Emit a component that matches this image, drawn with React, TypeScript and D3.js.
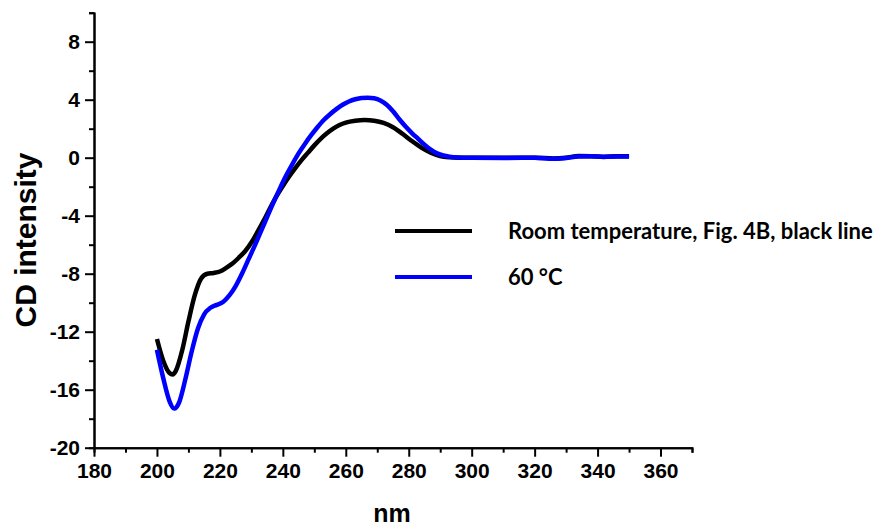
import React, { useEffect, useRef } from 'react'
import * as d3 from 'd3'

// Room temperature (Fig. 4B black line)
const roomNm = [200, 202, 204, 205, 206, 208, 210, 212, 214, 216, 218, 220, 222, 224, 226, 228, 230, 232, 234, 236, 238, 240, 242, 244, 246, 248, 250, 252, 254, 256, 258, 260, 263, 266, 269, 272, 275, 278, 281, 284, 287, 290, 293, 296, 300, 310, 320, 326, 330, 334, 338, 342, 346, 350]
const roomCd = [-12.5, -14.0, -14.85, -14.95, -14.7, -13.3, -11.3, -9.5, -8.35, -8.0, -7.95, -7.85, -7.6, -7.3, -6.9, -6.45, -5.85, -5.1, -4.3, -3.45, -2.65, -1.95, -1.3, -0.7, -0.15, 0.35, 0.85, 1.3, 1.68, 2.0, 2.25, 2.42, 2.55, 2.6, 2.55, 2.4, 2.1, 1.65, 1.15, 0.7, 0.35, 0.12, 0.03, 0.0, 0.0, 0.0, 0.0, -0.05, 0.0, 0.12, 0.1, 0.05, 0.1, 0.1]

// 60 °C
const hotNm = [200, 202, 204, 205.5, 207, 209, 211, 213, 215, 217, 219, 221, 223, 225, 227, 229, 231, 233, 235, 237, 239, 241, 243, 245, 247, 249, 251, 253, 255, 257, 259, 261, 263, 265, 267, 269, 271, 273, 275, 277, 279, 281, 283, 285, 287, 289, 291, 293, 296, 300, 310, 320, 326, 330, 334, 338, 342, 346, 350]
const hotCd = [-13.25, -15.2, -16.8, -17.3, -16.9, -15.3, -13.4, -11.8, -10.8, -10.35, -10.15, -9.95, -9.5, -8.85, -8.0, -7.05, -6.1, -5.1, -4.1, -3.1, -2.15, -1.25, -0.45, 0.3, 0.95, 1.55, 2.1, 2.6, 3.0, 3.35, 3.65, 3.88, 4.03, 4.12, 4.14, 4.1, 3.95, 3.65, 3.2, 2.65, 2.15, 1.7, 1.3, 0.9, 0.55, 0.3, 0.15, 0.07, 0.02, 0.0, -0.02, 0.0, -0.08, -0.02, 0.08, 0.1, 0.06, 0.08, 0.08]

const seriesNames = ['Room temperature, Fig. 4B, black line', '60 °C']
const seriesColors = ['#000000', '#0000ff']

const xMajorTicks = [180, 200, 220, 240, 260, 280, 300, 320, 340, 360]
const yMajorTicks = [-20, -16, -12, -8, -4, 0, 4, 8]

function App() {
  const ref = useRef(null)

  useEffect(() => {
    const svg = d3.select(ref.current)
    svg.selectAll('*').remove()

    const x = d3.scaleLinear().domain([180, 370]).range([94, 692])
    const y = d3.scaleLinear().domain([-20, 10]).range([447.7, 12.7])

    const labelFont = '"Liberation Sans", Arial, sans-serif'

    // minor ticks
    const xMinor = d3.axisBottom(x).tickValues(d3.range(190, 371, 20)).tickSize(5).tickFormat(() => '')
    const yMinor = d3.axisLeft(y).tickValues(d3.range(-18, 11, 4)).tickSize(5).tickFormat(() => '')

    const gx = svg.append('g').attr('transform', `translate(0, ${y(-20)})`)
    gx.call(xMinor)
    const gxMaj = svg.append('g').attr('transform', `translate(0, ${y(-20)})`)
    gxMaj.call(d3.axisBottom(x).tickValues(xMajorTicks).tickSize(9).tickSizeOuter(0).tickPadding(6)
      .tickFormat(d => String(d)))

    const gy = svg.append('g').attr('transform', `translate(${x(180)}, 0)`)
    gy.call(yMinor)
    const gyMaj = svg.append('g').attr('transform', `translate(${x(180)}, 0)`)
    gyMaj.call(d3.axisLeft(y).tickValues(yMajorTicks).tickSize(9).tickSizeOuter(0).tickPadding(5)
      .tickFormat(d => String(d)))

    svg.selectAll('.domain').attr('stroke', '#000').attr('stroke-width', 2)
    svg.selectAll('.tick line').attr('stroke', '#000').attr('stroke-width', 2)
    svg.selectAll('.tick text')
      .attr('font-family', labelFont)
      .attr('font-weight', 'bold')
      .attr('font-size', 21)
      .attr('fill', '#000')

    // curves
    const line = d3.line<[number, number]>()
      .x(d => x(d[0]))
      .y(d => y(d[1]))
      .curve(d3.curveMonotoneX)

    const series = [
      roomNm.map((n, i) => [n, roomCd[i]] as [number, number]),
      hotNm.map((n, i) => [n, hotCd[i]] as [number, number]),
    ]

    svg.append('g')
      .selectAll('path')
      .data(series)
      .join('path')
      .attr('d', d => line(d))
      .attr('fill', 'none')
      .attr('stroke', (d, i) => seriesColors[i])
      .attr('stroke-width', 4.5)
      .attr('stroke-linejoin', 'round')

    // axis titles
    svg.append('text')
      .attr('x', 392)
      .attr('y', 522)
      .attr('text-anchor', 'middle')
      .attr('font-family', labelFont)
      .attr('font-weight', 'bold')
      .attr('font-size', 25)
      .text('nm')

    svg.append('text')
      .attr('transform', 'translate(36, 240) rotate(-90)')
      .attr('text-anchor', 'middle')
      .attr('font-family', labelFont)
      .attr('font-weight', 'bold')
      .attr('font-size', 30)
      .text('CD intensity')

    // legend
    const legend = svg.append('g')
    seriesNames.forEach((name, i) => {
      const ly = 231 + i * 46
      legend.append('line')
        .attr('x1', 395).attr('x2', 472)
        .attr('y1', ly).attr('y2', ly)
        .attr('stroke', seriesColors[i])
        .attr('stroke-width', 4)
      legend.append('text')
        .attr('x', 508)
        .attr('y', ly + 8)
        .attr('font-family', 'Lato, "Open Sans", sans-serif')
        .attr('font-weight', 'bold')
        .attr('font-size', 22)
        .attr('fill', '#000')
        .text(name)
    })
  }, [])

  return (
    <svg
      ref={ref}
      width={879}
      height={529}
      style={{ position: 'absolute', left: 0, top: 0, background: '#fff' }}
    />
  )
}

export default App
